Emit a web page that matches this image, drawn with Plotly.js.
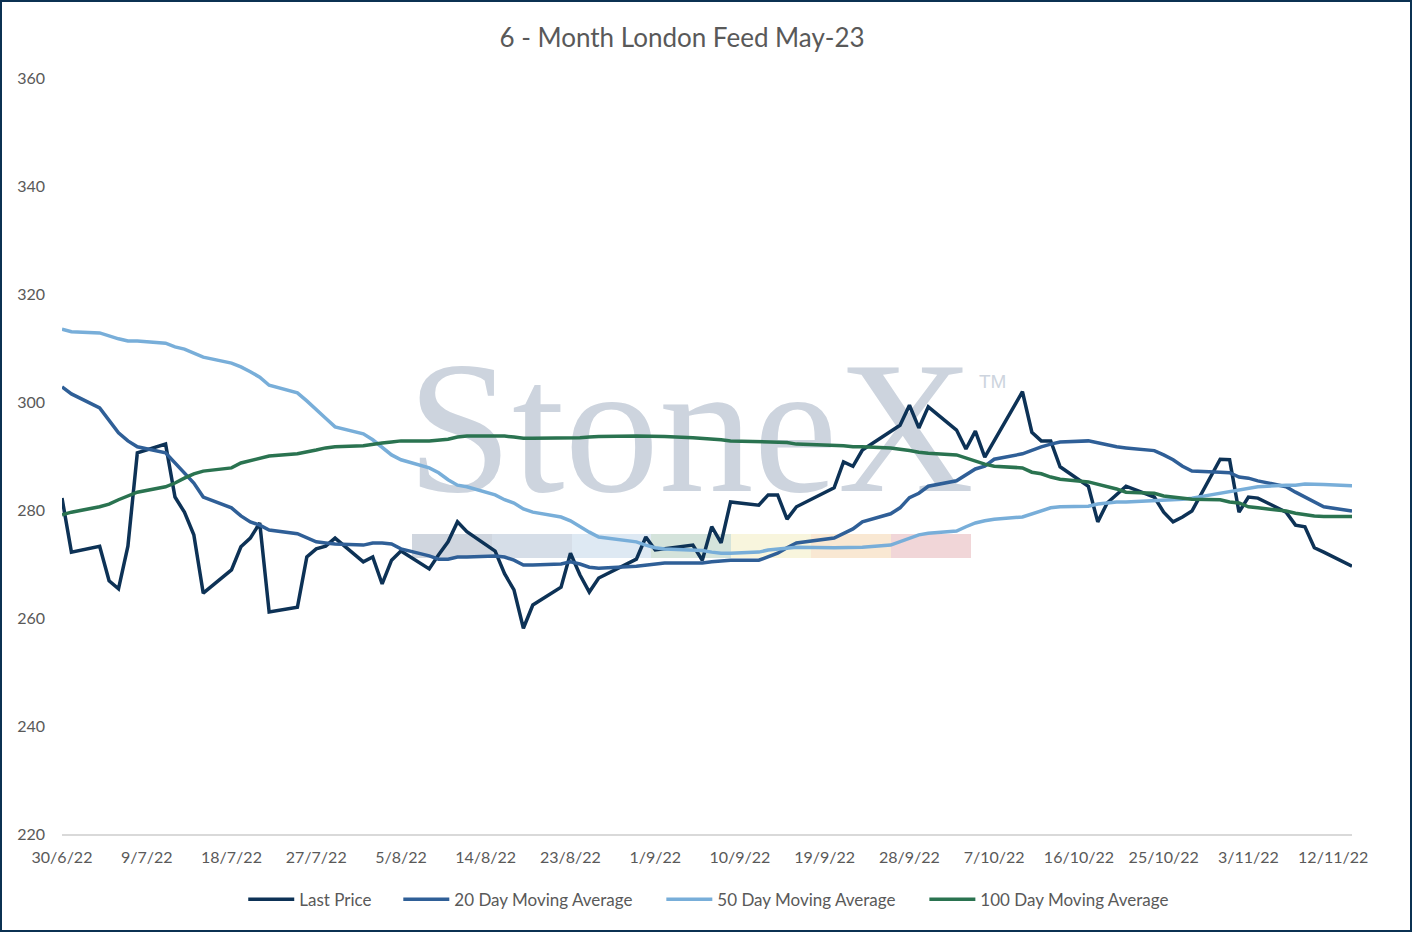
<!DOCTYPE html>
<html>
<head>
<meta charset="utf-8">
<script src="https://cdn.plot.ly/plotly-3.0.1.min.js"></script>
<style>
    body { margin: 0; background: #ffffff; }
    #wrap { position: relative; width: 1412px; height: 932px; overflow: hidden; background: #ffffff; }
    #logo { position: absolute; left: 0; top: 0; width: 1412px; height: 932px; }
    #logoText { position: absolute; left: 407px; top: 333px; font-family: "Liberation Serif", serif; font-size: 189px; line-height: 1; color: #cdd4de; white-space: nowrap; }
    #logoTm { position: absolute; left: 979px; top: 372px; font-family: "Liberation Sans", sans-serif; font-size: 19px; line-height: 1; color: #cdd4de; }
    .band { position: absolute; top: 534px; height: 24px; }
    #chart { position: absolute; left: 2px; top: 2px; width: 1408px; height: 928px; }
    #frame { position: absolute; left: 0; top: 0; width: 1412px; height: 932px; box-sizing: border-box; border: 2px solid #0b3152; pointer-events: none; }
</style>
</head>
<body>
<div id="wrap">
    <div id="logo">
        <div id="logoText">StoneX</div>
        <div id="logoTm">TM</div>
        <div class="band" style="left:412px;width:80px;background:#d0d6df"></div>
        <div class="band" style="left:492px;width:80px;background:#d6dee8"></div>
        <div class="band" style="left:572px;width:79px;background:#dee9f3"></div>
        <div class="band" style="left:651px;width:80px;background:#d4e3db"></div>
        <div class="band" style="left:731px;width:80px;background:#f8f5dd"></div>
        <div class="band" style="left:811px;width:80px;background:#f9e8d3"></div>
        <div class="band" style="left:891px;width:80px;background:#f1d6d8"></div>
    </div>
    <div id="chart"></div>
    <div id="frame"></div>
</div>
<script>
// trading days (UK holidays 29/8 and 19/9 have no print)
const dates = [
    '2022-06-30', '2022-07-01', '2022-07-04', '2022-07-05', '2022-07-06', '2022-07-07', '2022-07-08',
    '2022-07-11', '2022-07-12', '2022-07-13', '2022-07-14', '2022-07-15',
    '2022-07-18', '2022-07-19', '2022-07-20', '2022-07-21', '2022-07-22',
    '2022-07-25', '2022-07-26', '2022-07-27', '2022-07-28', '2022-07-29',
    '2022-08-01', '2022-08-02', '2022-08-03', '2022-08-04', '2022-08-05',
    '2022-08-08', '2022-08-09', '2022-08-10', '2022-08-11', '2022-08-12',
    '2022-08-15', '2022-08-16', '2022-08-17', '2022-08-18', '2022-08-19',
    '2022-08-22', '2022-08-23', '2022-08-24', '2022-08-25', '2022-08-26',
    '2022-08-30', '2022-08-31', '2022-09-01', '2022-09-02',
    '2022-09-05', '2022-09-06', '2022-09-07', '2022-09-08', '2022-09-09',
    '2022-09-12', '2022-09-13', '2022-09-14', '2022-09-15', '2022-09-16',
    '2022-09-20', '2022-09-21', '2022-09-22', '2022-09-23',
    '2022-09-26', '2022-09-27', '2022-09-28', '2022-09-29', '2022-09-30',
    '2022-10-03', '2022-10-04', '2022-10-05', '2022-10-06', '2022-10-07',
    '2022-10-10', '2022-10-11', '2022-10-12', '2022-10-13', '2022-10-14',
    '2022-10-17', '2022-10-18', '2022-10-19', '2022-10-20', '2022-10-21',
    '2022-10-24', '2022-10-25', '2022-10-26', '2022-10-27', '2022-10-28',
    '2022-10-31', '2022-11-01', '2022-11-02', '2022-11-03', '2022-11-04',
    '2022-11-07', '2022-11-08', '2022-11-09', '2022-11-10', '2022-11-11',
    '2022-11-14'
];

const lastPrice = [
    282.2, 272.2, 273.3, 266.9, 265.4, 273.3, 290.6,
    292.2, 282.4, 279.6, 275.4, 264.6,
    268.9, 273.2, 274.8, 277.6, 261.1,
    262.0, 271.3, 272.8, 273.3, 274.8,
    270.4, 271.3, 266.3, 270.7, 272.4,
    269.1, 271.7, 274.1, 277.8, 276.0,
    272.4, 268.2, 265.2, 258.1, 262.4,
    265.7, 272.0, 268.0, 264.8, 267.4,
    270.9, 275.0, 272.6, 272.8,
    273.5, 270.7, 276.9, 273.9, 281.5,
    280.9, 282.8, 282.8, 278.3, 280.6,
    284.1, 288.9, 288.1, 291.1,
    294.6, 295.7, 299.4, 295.2, 299.1,
    294.8, 291.3, 294.6, 289.8, 292.8,
    301.9, 294.4, 292.8, 292.8, 288.0,
    284.4, 277.8, 281.3, 282.8, 284.4,
    282.4, 279.6, 277.8, 278.7, 279.8,
    289.4, 289.3, 279.6, 282.4, 282.2,
    279.6, 277.2, 276.9, 273.0, 272.2,
    269.6
];

const ma20 = [
    302.8, 301.5, 298.9, 296.7, 294.3, 292.8, 291.7,
    290.6, 288.7, 286.9, 285.0, 282.4,
    280.4, 278.9, 277.8, 277.2, 276.3,
    275.6, 274.8, 274.1, 273.9, 273.7,
    273.5, 273.9, 273.9, 273.7, 272.8,
    271.5, 270.9, 270.9, 271.3, 271.3,
    271.5, 271.3, 270.7, 269.8, 269.8,
    270.0, 270.4, 270.0, 269.4, 269.2,
    269.6, 269.8, 270.0, 270.2,
    270.2, 270.2, 270.4, 270.5, 270.7,
    270.7, 271.3, 272.0, 273.0, 273.9,
    274.8, 275.7, 276.5, 277.8,
    279.3, 280.4, 282.3, 283.1, 284.4,
    285.4, 286.5, 287.6, 288.1, 289.4,
    290.4, 291.1, 291.7, 292.2, 292.6,
    292.8, 292.4, 292.0, 291.7, 291.5,
    291.0, 290.2, 289.3, 288.1, 287.2,
    287.0, 286.9, 286.1, 285.9, 285.4,
    284.3, 283.3, 282.4, 281.5, 280.6,
    279.8
];

const ma50 = [
    313.5, 313.0, 312.8, 312.2, 311.7, 311.3, 311.3,
    310.9, 310.2, 309.8, 309.1, 308.3,
    307.2, 306.5, 305.6, 304.6, 303.1,
    301.7, 300.2, 298.7, 297.0, 295.4,
    294.1, 293.0, 291.5, 290.2, 289.3,
    287.8, 286.9, 285.6, 284.6, 284.3,
    282.8, 281.9, 281.3, 280.2, 279.6,
    278.7, 278.0, 276.9, 275.9, 275.0,
    274.1, 273.5, 273.0, 272.8,
    272.6, 272.5, 272.2, 272.0, 272.0,
    272.2, 272.6, 272.8, 273.0, 273.1,
    273.0, 273.0, 273.0, 273.1,
    273.5, 274.1, 274.8, 275.4, 275.7,
    276.1, 276.9, 277.6, 278.0, 278.3,
    278.7, 279.3, 279.8, 280.4, 280.6,
    280.7, 281.1, 281.3, 281.5, 281.5,
    281.7, 281.8, 281.9, 282.0, 282.2,
    283.1, 283.5, 283.7, 284.1, 284.3,
    284.6, 284.6, 284.8, 284.8, 284.7,
    284.5
];

const ma100 = [
    279.1, 279.6, 280.6, 281.1, 281.9, 282.6, 283.3,
    284.3, 285.0, 285.9, 286.7, 287.2,
    287.8, 288.7, 289.1, 289.6, 290.0,
    290.4, 290.7, 291.1, 291.5, 291.7,
    291.9, 292.2, 292.4, 292.6, 292.8,
    292.8, 293.0, 293.1, 293.5, 293.7,
    293.7, 293.7, 293.5, 293.3, 293.3,
    293.3, 293.4, 293.4, 293.5, 293.6,
    293.7, 293.7, 293.7, 293.6,
    293.4, 293.3, 293.1, 293.0, 292.8,
    292.6, 292.6, 292.5, 292.5, 292.2,
    292.0, 291.9, 291.7, 291.7,
    291.5, 291.3, 291.0, 290.7, 290.5,
    290.2, 289.6, 289.1, 288.5, 288.1,
    287.8, 287.0, 286.7, 286.1, 285.7,
    285.2, 284.8, 284.3, 283.9, 283.3,
    283.1, 282.6, 282.4, 282.2, 282.0,
    281.9, 281.5, 281.3, 280.6, 280.4,
    279.8, 279.4, 279.1, 278.9, 278.8,
    278.8
];

const seriesNames = ['Last Price', '20 Day Moving Average', '50 Day Moving Average', '100 Day Moving Average'];
const seriesColors = ['#0d3256', '#2f5f97', '#78aed9', '#2a7350'];
const seriesValues = [lastPrice, ma20, ma50, ma100];

const textFont = 'Lato, "Open Sans", sans-serif';
const textColor = '#595959';

// each series gets its own legend box so the entries can be spaced like the original
const legendIds = ['legend', 'legend2', 'legend3', 'legend4'];
const legendX = [0.1405, 0.2607, 0.4646, 0.6685];

const data = seriesValues.map((vals, i) => ({
    type: 'scatter',
    mode: 'lines',
    x: dates,
    y: vals,
    name: seriesNames[i],
    legend: legendIds[i],
    line: { color: seriesColors[i], width: 3.5 },
    hoverinfo: 'x+y+name'
}));

const layout = {
    width: 1408,
    height: 928,
    margin: { l: 60, r: 58, t: 76, b: 96 },
    paper_bgcolor: 'rgba(0,0,0,0)',
    plot_bgcolor: 'rgba(0,0,0,0)',
    font: { family: textFont, color: textColor, size: 16 },
    title: {
        text: '6 - Month London Feed May-23',
        font: { family: textFont, size: 26, color: textColor },
        x: 0.483,
        xref: 'container',
        xanchor: 'center',
        y: 0.961,
        yref: 'container',
        yanchor: 'middle'
    },
    xaxis: {
        type: 'date',
        range: ['2022-06-30', '2022-11-14'],
        tick0: '2022-06-30',
        dtick: 9 * 86400000,
        tickformat: '%-d/%-m/%y',
        showgrid: false,
        zeroline: false,
        showline: true,
        linecolor: '#d9d9d9',
        linewidth: 1.5,
        ticks: '',
        ticklabelstandoff: 8,
        tickfont: { family: textFont, size: 16, color: textColor }
    },
    yaxis: {
        range: [220, 360],
        dtick: 20,
        showgrid: false,
        zeroline: false,
        showline: false,
        ticks: '',
        ticklabelstandoff: 16,
        tickfont: { family: textFont, size: 16, color: textColor }
    },
    showlegend: true,
    hovermode: 'closest'
};

legendIds.forEach((id, i) => {
    layout[id] = {
        orientation: 'h',
        x: legendX[i],
        xanchor: 'left',
        y: -0.087,
        yanchor: 'middle',
        font: { family: textFont, size: 17, color: textColor },
        bgcolor: 'rgba(0,0,0,0)',
        itemwidth: 46
    };
});

Plotly.newPlot('chart', data, layout, { displayModeBar: false });
</script>
</body>
</html>
